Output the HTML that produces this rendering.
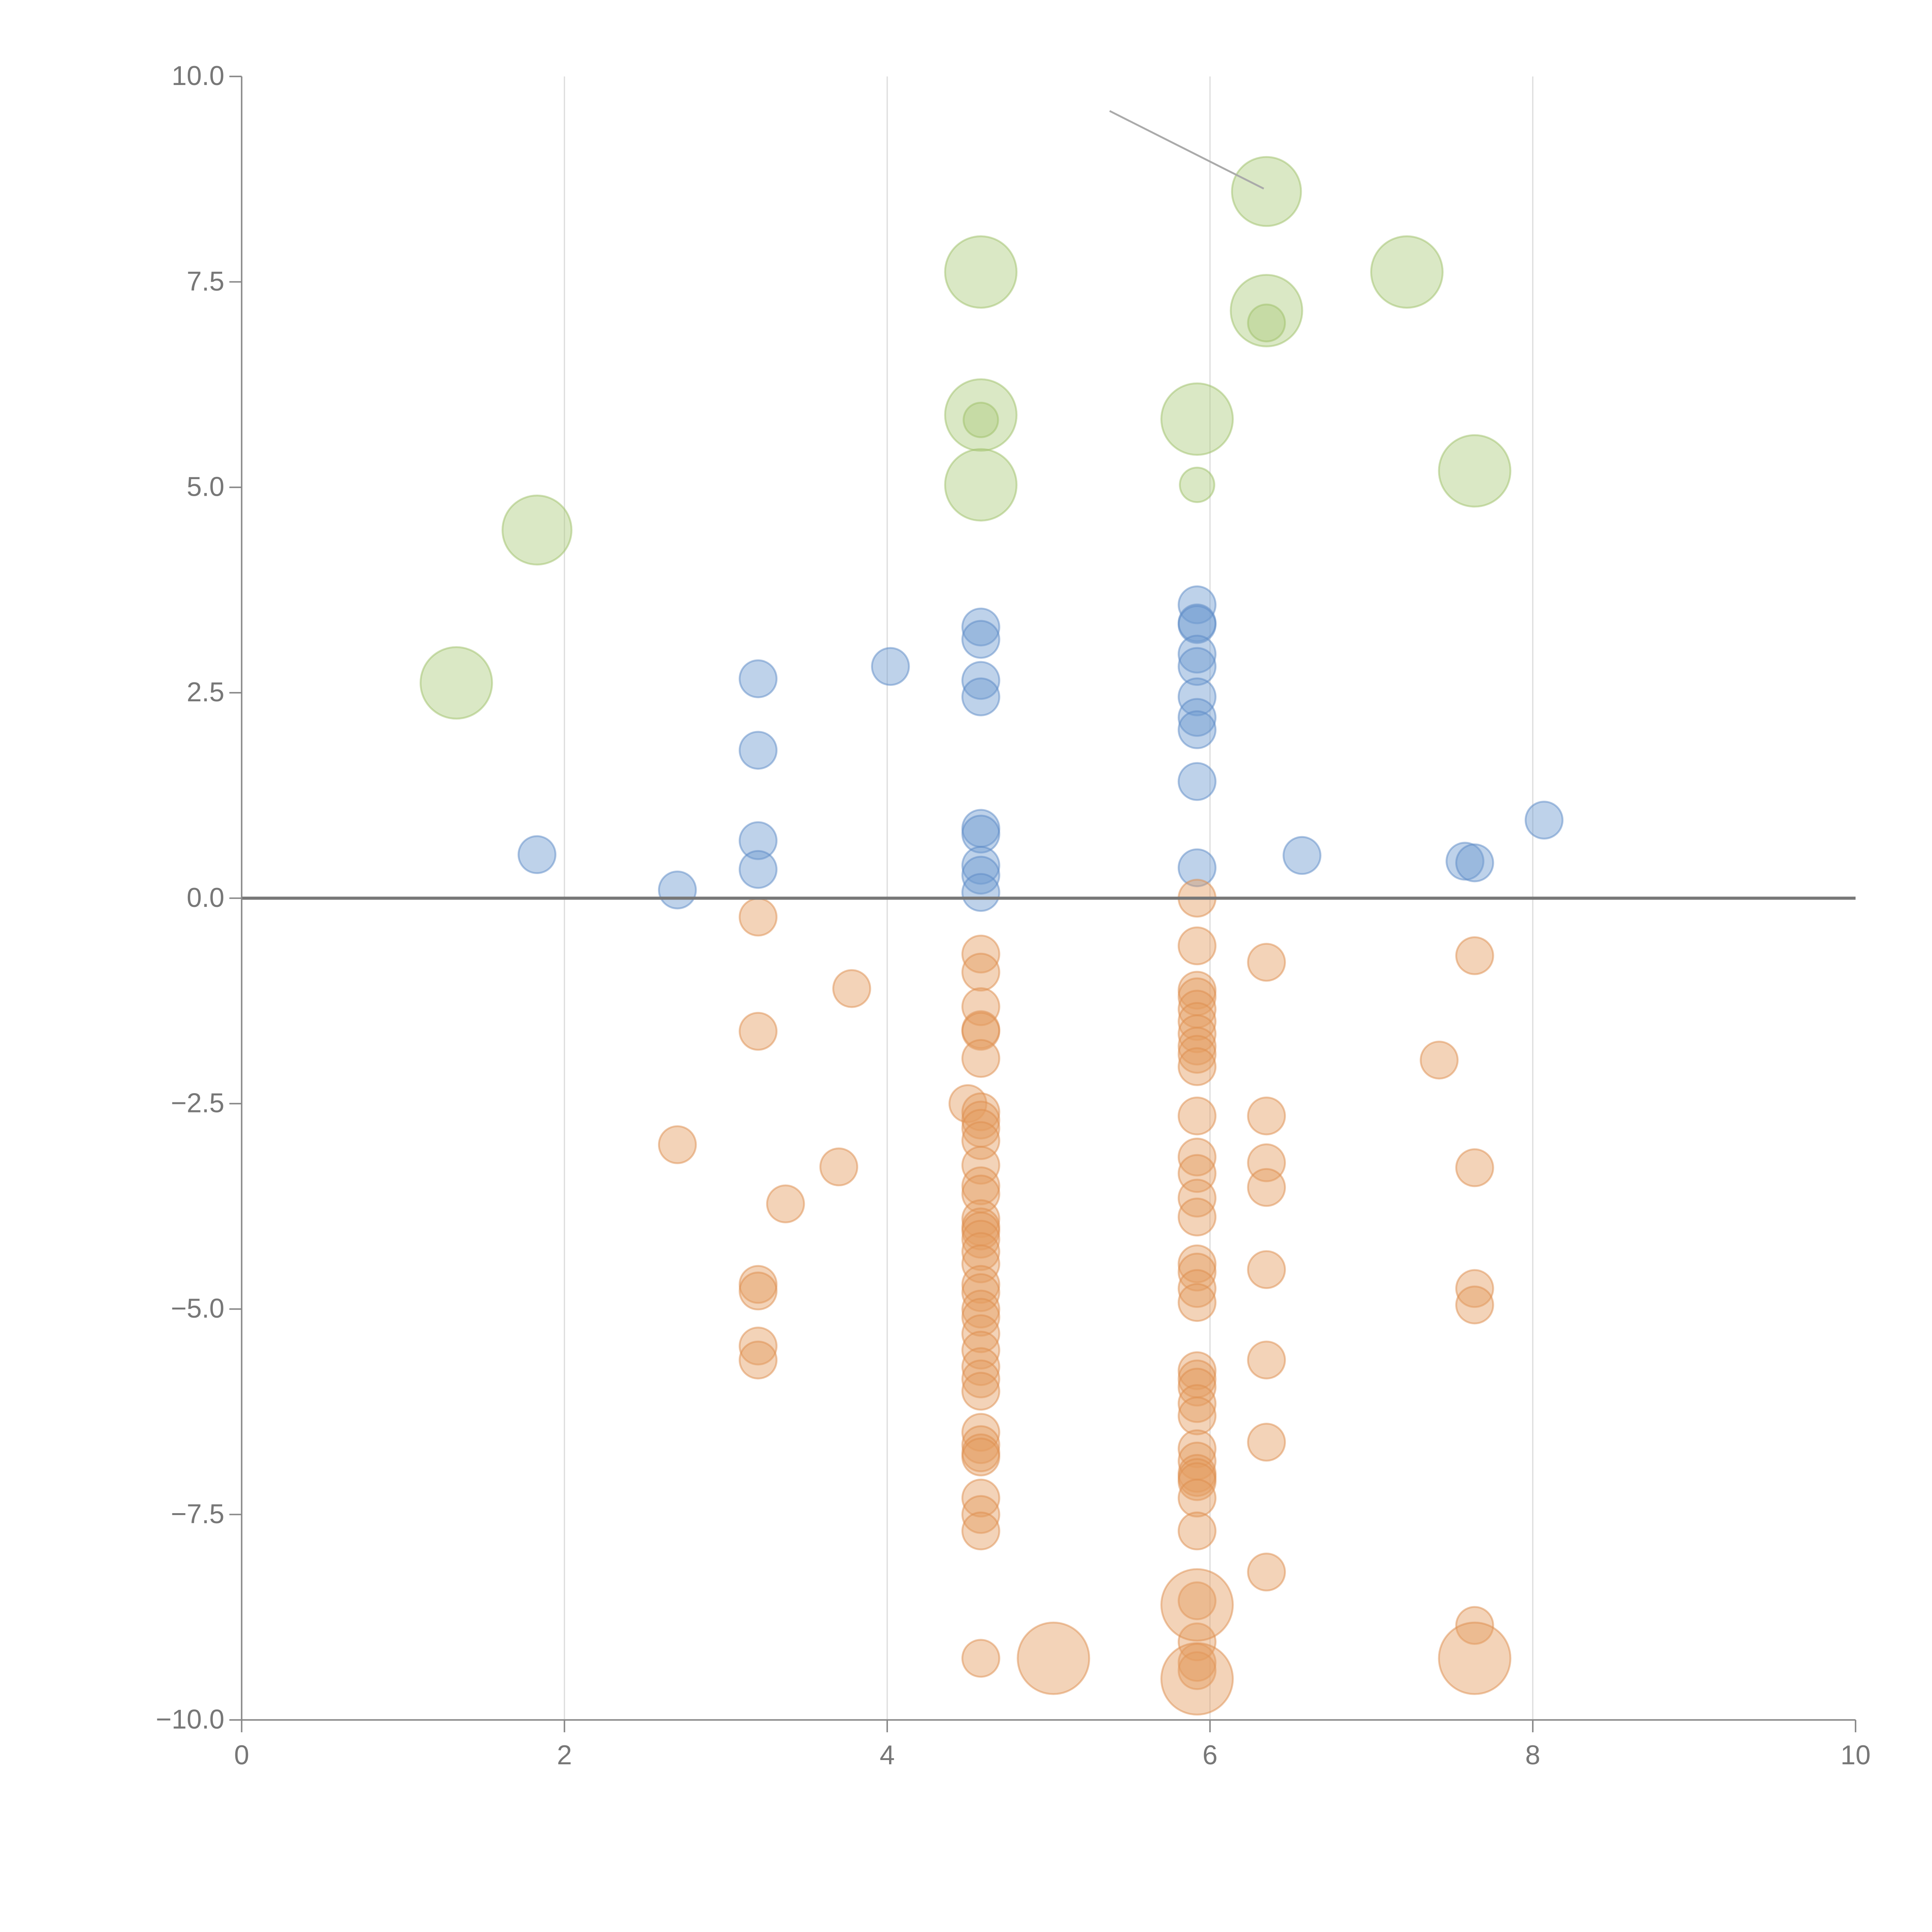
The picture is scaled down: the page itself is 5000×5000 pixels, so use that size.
<!DOCTYPE html>
<html><head><meta charset="utf-8"><style>html,body{margin:0;padding:0;background:#fff}svg{display:block}</style></head>
<body>
<svg id="chart" width="5000" height="5000" viewBox="0 0 1567 1567" xmlns="http://www.w3.org/2000/svg" font-family="Liberation Sans, sans-serif">
<g id="grid"></g>
<g id="marks"></g>
<g id="axes"></g>
</svg>
<script>
const xTicks=[0,2,4,6,8,10];
const yTicks=[10,7.5,5,2.5,0,-2.5,-5,-7.5,-10];
const yTickLabels=["10.0","7.5","5.0","2.5","0.0","\u22122.5","\u22125.0","\u22127.5","\u221210.0"];
const greenX=[1.33,1.83,4.58,4.58,4.58,4.58,5.92,5.92,6.35,6.35,6.35,7.22,7.64];
const greenY=[2.62,4.48,7.62,5.88,5.03,5.82,5.83,5.03,8.6,7.15,7.0,7.62,5.2];
const greenR=[29,28,29,29,29,14,29,14,28,29,15,29,29];
const blueX=[1.83,2.7,3.2,3.2,3.2,3.2,4.02,4.58,4.58,4.58,4.58,4.58,4.58,4.58,4.58,4.58,5.92,5.92,5.92,5.92,5.92,5.92,5.92,5.92,5.92,5.92,6.57,7.58,7.64,8.07];
const blueY=[0.53,0.1,2.67,1.8,0.7,0.35,2.82,3.3,3.15,2.65,2.45,0.85,0.78,0.4,0.28,0.07,3.57,3.35,3.33,2.97,2.82,2.45,2.2,2.05,1.42,0.37,0.52,0.45,0.43,0.95];
const orangeX=[3.2,3.2,3.2,3.2,3.2,3.2,2.7,3.37,3.7,3.78,4.5,
4.58,4.58,4.58,4.58,4.58,4.58,4.58,4.58,4.58,4.58,4.58,4.58,4.58,4.58,4.58,4.58,4.58,4.58,4.58,4.58,4.58,4.58,4.58,4.58,4.58,4.58,4.58,4.58,4.58,4.58,4.58,4.58,4.58,4.58,4.58,4.58,
5.92,5.92,5.92,5.92,5.92,5.92,5.92,5.92,5.92,5.92,5.92,5.92,5.92,5.92,5.92,5.92,5.92,5.92,5.92,5.92,5.92,5.92,5.92,5.92,5.92,5.92,5.92,5.92,5.92,5.92,5.92,5.92,5.92,5.92,5.92,
6.35,6.35,6.35,6.35,6.35,6.35,6.35,6.35,7.42,7.64,7.64,7.64,7.64,7.64,
5.92,5.92,5.03,7.64];
const orangeY=[-0.23,-1.62,-4.7,-4.78,-5.45,-5.62,-3.0,-3.72,-3.27,-1.1,-2.5,
-0.68,-0.9,-1.32,-1.6,-1.62,-1.95,-2.6,-2.7,-2.8,-2.95,-3.25,-3.5,-3.6,-3.9,-4.0,-4.05,-4.15,-4.3,-4.45,-4.7,-4.8,-5.0,-5.1,-5.3,-5.5,-5.7,-5.85,-6.0,-6.5,-6.65,-6.75,-6.8,-7.3,-7.5,-7.7,-9.25,
0,-0.58,-1.12,-1.2,-1.35,-1.5,-1.65,-1.8,-1.9,-2.05,-2.65,-3.15,-3.35,-3.65,-3.88,-4.45,-4.55,-4.75,-4.92,-5.75,-5.85,-5.95,-6.15,-6.3,-6.7,-6.85,-7.0,-7.05,-7.1,-7.3,-7.7,-8.55,-9.05,-9.3,-9.4,
-0.78,-2.65,-3.22,-3.52,-4.52,-5.62,-6.62,-8.2,-1.97,-0.7,-3.28,-4.75,-4.95,-8.85,
-8.6,-9.5,-9.25,-9.25];
const orangeBigCount=4;
const NS="http://www.w3.org/2000/svg";
const X0=196,X1=1505,Y0=1395,Y1=62;
function sx(v){return X0+(v-0)/(10-0)*(X1-X0);}
function sy(v){return Y0-(v+10)/20*(Y0-Y1);}
function mk(tag,attrs,parent){const e=document.createElementNS(NS,tag);for(const k in attrs)e.setAttribute(k,attrs[k]);parent.appendChild(e);return e;}
const grid=document.getElementById('grid'),marks=document.getElementById('marks'),axes=document.getElementById('axes');
xTicks.forEach(t=>{if(t>0&&t<10){const l=mk('line',{x1:sx(t),x2:sx(t),y1:Y1,y2:Y0,stroke:'#dddddd','stroke-width':1},grid);

}});
function series(xs,ys,rs,fill,stroke,name){xs.forEach((x,i)=>{const c=mk('circle',{cx:sx(x),cy:sy(ys[i]),r:rs(i),fill:fill,'fill-opacity':0.45,stroke:stroke,'stroke-opacity':0.5,'stroke-width':1.5},marks);

});}
series(greenX,greenY,i=>greenR[i],'#aecb7f','#9dbf68','green-bubble');
series(blueX,blueY,i=>15,'#6f9bd1','#5b89c6','blue-bubble');
series(orangeX,orangeY,i=>i>=orangeX.length-orangeBigCount?29:15,'#e49d62','#de8e4e','orange-bubble');
const ann=mk('line',{x1:900,y1:90,x2:1025,y2:153,stroke:'#aaaaaa','stroke-width':1.5},marks);


const zl=mk('line',{x1:X0,x2:X1,y1:sy(0),y2:sy(0),stroke:'#777777','stroke-width':2.5},axes);


const ya=mk('line',{x1:X0,x2:X0,y1:Y1,y2:Y0,stroke:'#888888','stroke-width':1.2},axes);


const xa=mk('line',{x1:X0,x2:X1,y1:Y0,y2:Y0,stroke:'#888888','stroke-width':1.2},axes);


yTicks.forEach((t,i)=>{mk('line',{x1:X0-10,x2:X0,y1:sy(t),y2:sy(t),stroke:'#888888','stroke-width':1.2},axes);
const tx=mk('text',{x:X0-14,y:sy(t)+7,'text-anchor':'end','font-size':22,fill:'#777777'},axes);tx.textContent=yTickLabels[i];

});
xTicks.forEach(t=>{mk('line',{x1:sx(t),x2:sx(t),y1:Y0,y2:Y0+10,stroke:'#888888','stroke-width':1.2},axes);
const tx=mk('text',{x:sx(t),y:Y0+36,'text-anchor':'middle','font-size':22,fill:'#777777'},axes);tx.textContent=String(t);

});
</script>
</body></html>
